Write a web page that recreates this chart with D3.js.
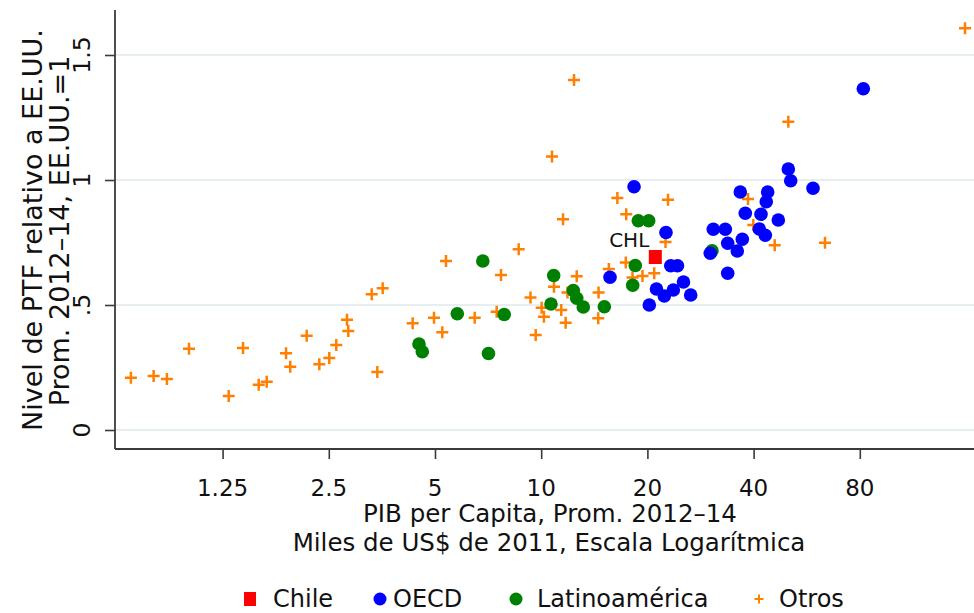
<!DOCTYPE html>
<html>
<head>
<meta charset="utf-8">
<script src="https://cdn.jsdelivr.net/npm/d3@7"></script>
<style>
  html, body { margin: 0; padding: 0; background: #ffffff; }
  svg { display: block; font-family: "DejaVu Sans", sans-serif; }
</style>
</head>
<body>
<div id="chart"></div>
<script>
// ---- Data (GDP per capita, thousands 2011 US$; TFP relative to US) ----
const chileX = [21.06];
const chileY = [0.692];
const chileLabel = ["CHL"];

const oecdX = [15.67, 18.33, 20.25, 21.22, 22.33, 22.58, 23.29, 23.69, 24.34, 25.31,
               26.53, 30.15, 30.75, 33.25, 33.78, 33.78, 35.96, 36.67, 37.16, 37.89,
               41.52, 41.98, 43.17, 43.45, 43.85, 47.00, 50.17, 50.96, 58.95, 81.86];
const oecdY = [0.611, 0.973, 0.500, 0.564, 0.536, 0.790, 0.657, 0.560, 0.657, 0.592,
               0.540, 0.707, 0.803, 0.803, 0.747, 0.627, 0.716, 0.952, 0.763, 0.867,
               0.804, 0.863, 0.779, 0.913, 0.952, 0.840, 1.044, 0.997, 0.967, 1.365];

const latamX = [4.504, 4.602, 5.783, 6.832, 7.089, 7.855, 10.66, 10.85, 12.33, 12.61,
                13.16, 15.10, 18.17, 18.48, 18.85, 20.17, 30.49];
const latamY = [0.344, 0.313, 0.465, 0.676, 0.306, 0.462, 0.504, 0.618, 0.558, 0.527,
                0.492, 0.493, 0.579, 0.658, 0.837, 0.837, 0.717];

const otrosX = [0.687, 0.797, 0.869, 1.004, 1.301, 1.428, 1.582, 1.667, 1.891, 1.944,
                2.164, 2.350, 2.508, 2.625, 2.815, 2.839, 3.308, 3.554, 3.431, 4.322,
                4.968, 5.244, 5.372, 6.479, 7.479, 7.692, 8.634, 9.326, 9.647, 10.03,
                10.18, 10.73, 10.87, 11.40, 11.53, 11.73, 11.87, 12.39, 12.61, 14.54,
                14.51, 15.55, 16.44, 17.37, 17.42, 18.15, 19.37, 20.91, 22.51, 22.88,
                38.56, 39.92, 45.91, 50.17, 63.74, 159.0];
const otrosY = [0.209, 0.216, 0.204, 0.325, 0.136, 0.328, 0.181, 0.193, 0.307, 0.253,
                0.377, 0.263, 0.288, 0.340, 0.441, 0.396, 0.543, 0.567, 0.232, 0.427,
                0.449, 0.391, 0.676, 0.449, 0.473, 0.620, 0.723, 0.530, 0.380, 0.489,
                0.453, 1.094, 0.573, 0.480, 0.843, 0.429, 0.550, 1.400, 0.615, 0.550,
                0.447, 0.644, 0.928, 0.670, 0.863, 0.610, 0.616, 0.627, 0.752, 0.921,
                0.924, 0.820, 0.739, 1.233, 0.749, 1.607];

const xTicks = [1.25, 2.5, 5, 10, 20, 40, 80];
const xTickLabels = ["1.25", "2.5", "5", "10", "20", "40", "80"];
const yTicks = [0, 0.5, 1, 1.5];
const yTickLabels = ["0", ".5", "1", "1.5"];

const yTitle = ["Nivel de PTF relativo a EE.UU.", "Prom. 2012\u201314, EE.UU.=1"];
const xTitle = ["PIB per Capita, Prom. 2012\u201314", "Miles de US$ de 2011, Escala Logar\u00edtmica"];
const legendLabels = ["Chile", "OECD", "Latinoam\u00e9rica", "Otros"];

// ---- Layout ----
const W = 974, H = 613;
const plot = { left: 115, right: 974, top: 10, bottom: 449 };

const x = d3.scaleLog().domain([1.25, 80]).range([222.6, 859.8]);
const y = d3.scaleLinear().domain([0, 1.5]).range([430, 55]);

const svg = d3.select("#chart").append("svg")
  .attr("width", W).attr("height", H);

// grid
svg.append("g").selectAll("line").data(yTicks).join("line")
  .attr("x1", plot.left).attr("x2", plot.right)
  .attr("y1", d => y(d)).attr("y2", d => y(d))
  .attr("stroke", "#e6eef1").attr("stroke-width", 2);

// Y axis
const yAxis = svg.append("g").attr("transform", `translate(${plot.left},0)`)
  .call(d3.axisLeft(y).tickValues(yTicks).tickSize(10).tickFormat(""));
yAxis.select(".domain").remove();
yAxis.selectAll(".tick line").attr("stroke", "#3a3a3a").attr("stroke-width", 1.6);
svg.append("line").attr("x1", plot.left).attr("x2", plot.left)
  .attr("y1", plot.top).attr("y2", plot.bottom)
  .attr("stroke", "#3a3a3a").attr("stroke-width", 1.8);

svg.append("g").selectAll("text").data(yTicks).join("text")
  .attr("transform", d => `translate(90,${y(d)}) rotate(-90)`)
  .attr("text-anchor", "middle")
  .attr("font-size", 23.5).attr("fill", "#111")
  .text((d, i) => yTickLabels[i]);

// X axis
const xAxis = svg.append("g").attr("transform", `translate(0,${plot.bottom})`)
  .call(d3.axisBottom(x).tickValues(xTicks).tickSize(10).tickFormat(""));
xAxis.select(".domain").remove();
xAxis.selectAll(".tick line").attr("stroke", "#3a3a3a").attr("stroke-width", 1.6);
svg.append("line").attr("x1", plot.left).attr("x2", plot.right)
  .attr("y1", plot.bottom).attr("y2", plot.bottom)
  .attr("stroke", "#3a3a3a").attr("stroke-width", 1.8);

svg.append("g").selectAll("text").data(xTicks).join("text")
  .attr("x", d => x(d)).attr("y", 496)
  .attr("text-anchor", "middle")
  .attr("font-size", 23).attr("fill", "#111")
  .text((d, i) => xTickLabels[i]);

// Axis titles
svg.append("text").attr("transform", "translate(42,230) rotate(-90)")
  .attr("text-anchor", "middle").attr("font-size", 27).attr("fill", "#111")
  .text(yTitle[0]);
svg.append("text").attr("transform", "translate(69,231) rotate(-90)")
  .attr("text-anchor", "middle").attr("font-size", 27).attr("fill", "#111")
  .text(yTitle[1]);

svg.append("text").attr("x", 550).attr("y", 522)
  .attr("text-anchor", "middle").attr("font-size", 24.5).attr("fill", "#111")
  .text(xTitle[0]);
svg.append("text").attr("x", 549).attr("y", 551)
  .attr("text-anchor", "middle").attr("font-size", 24.5).attr("fill", "#111")
  .text(xTitle[1]);

// ---- Marks ----
const orange = "#ff7f00", blue = "#0000ff", green = "#008000", red = "#ff0000";
const plusPath = "M-6,0H6M0,-6V6";

svg.append("g").selectAll("path").data(otrosX).join("path")
  .attr("transform", (d, i) => `translate(${x(d)},${y(otrosY[i])})`)
  .attr("d", plusPath).attr("stroke", orange).attr("stroke-width", 2.5).attr("fill", "none");

svg.append("g").selectAll("circle").data(latamX).join("circle")
  .attr("cx", d => x(d)).attr("cy", (d, i) => y(latamY[i]))
  .attr("r", 6.8).attr("fill", green);

svg.append("g").selectAll("circle").data(oecdX).join("circle")
  .attr("cx", d => x(d)).attr("cy", (d, i) => y(oecdY[i]))
  .attr("r", 6.8).attr("fill", blue);

svg.append("g").selectAll("rect").data(chileX).join("rect")
  .attr("x", d => x(d) - 6.5).attr("y", (d, i) => y(chileY[i]) - 7)
  .attr("width", 13).attr("height", 14).attr("fill", red);

svg.append("g").selectAll("text").data(chileX).join("text")
  .attr("x", d => x(d) - 6).attr("y", (d, i) => y(chileY[i]) - 10)
  .attr("text-anchor", "end").attr("font-size", 20).attr("fill", "#111")
  .text((d, i) => chileLabel[i]);

// ---- Legend ----
const lgY = 599;
const lg = svg.append("g");
lg.append("rect").attr("x", 244).attr("y", lgY - 7).attr("width", 12).attr("height", 14).attr("fill", red);
lg.append("circle").attr("cx", 380).attr("cy", lgY).attr("r", 6.5).attr("fill", blue);
lg.append("circle").attr("cx", 516).attr("cy", lgY).attr("r", 6.5).attr("fill", green);
lg.append("path").attr("transform", `translate(759,${lgY})`).attr("d", "M-4.5,0H4.5M0,-4.5V4.5")
  .attr("stroke", orange).attr("stroke-width", 2).attr("fill", "none");
const lgTextX = [273, 393, 537, 779];
lg.selectAll("text").data(legendLabels).join("text")
  .attr("x", (d, i) => lgTextX[i]).attr("y", 607)
  .attr("font-size", 24).attr("fill", "#111")
  .text(d => d);
</script>
</body>
</html>
